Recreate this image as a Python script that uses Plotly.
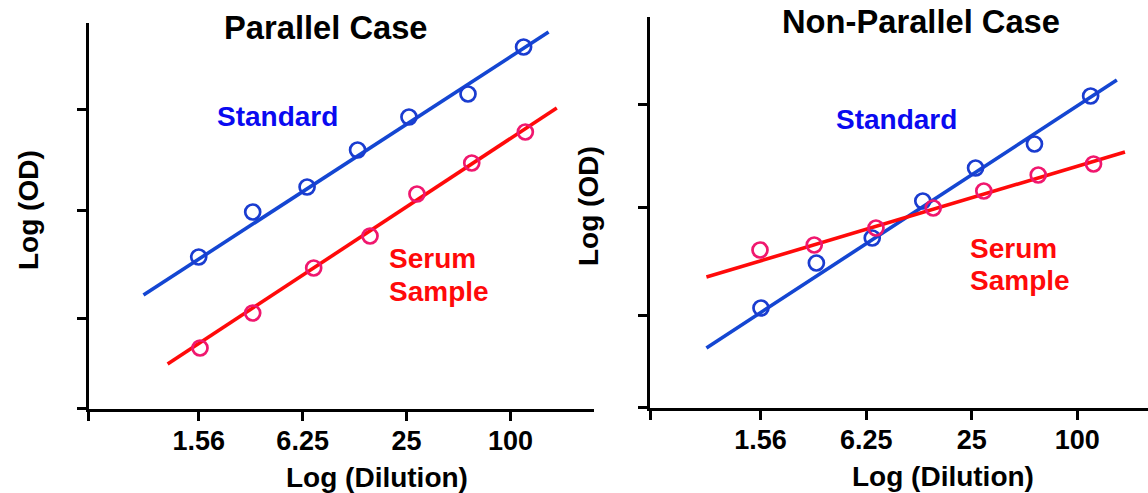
import plotly.graph_objects as go

# ---------------- data ----------------
# Parallel case
par_std_dil = [1.5625, 3.21, 6.63, 13.0, 25.8, 56.7, 119.0]
par_std_od = [1.52, 1.97, 2.22, 2.59, 2.92, 3.15, 3.62]
par_ser_dil = [1.59, 3.21, 7.24, 15.35, 28.7, 59.6, 121.8]
par_ser_od = [0.61, 0.96, 1.41, 1.73, 2.15, 2.46, 2.77]
par_std_fit_dil = [0.748, 166.1]
par_std_fit_od = [1.14, 3.77]
par_ser_fit_dil = [1.032, 185.3]
par_ser_fit_od = [0.45, 3.01]

# Non-parallel case
non_std_dil = [1.57, 3.25, 6.77, 13.15, 26.3, 57.0, 119.2]
non_std_od = [1.00, 1.45, 1.70, 2.07, 2.40, 2.64, 3.12]
non_ser_dil = [1.55, 3.16, 7.11, 15.08, 29.3, 59.9, 123.8]
non_ser_od = [1.58, 1.63, 1.80, 2.00, 2.17, 2.33, 2.44]
non_std_fit_dil = [0.767, 168.2]
non_std_fit_od = [0.60, 3.28]
non_ser_fit_dil = [0.767, 187.1]
non_ser_fit_od = [1.31, 2.56]

x_tick_vals = [1.5625, 6.25, 25, 100]
x_tick_text = ["1.56", "6.25", "25", "100"]
par_y_ticks = [0.91, 1.99, 3.00]
non_y_ticks = [0.93, 2.01, 3.04]

# ---------------- styling ----------------
W, H = 1148, 493
FONT = "Liberation Sans, Arial, sans-serif"
BLUE_LINE = "#1446d2"
BLUE_MARK = "#1a3cd0"
RED_LINE = "#ff0a0a"
RED_MARK = "#f0176e"
BLUE_TEXT = "#0a0af0"
RED_TEXT = "#ff0a0a"


def px_x(p):
    return p / W


def px_y(p):
    return 1 - p / H


fig = go.Figure()


def add_panel(xa, ya, std_dil, std_od, ser_dil, ser_od,
              sfit_x, sfit_y, rfit_x, rfit_y):
    fig.add_trace(go.Scatter(x=sfit_x, y=sfit_y, mode="lines",
                             line=dict(color=BLUE_LINE, width=3.6),
                             xaxis=xa, yaxis=ya, showlegend=False,
                             hoverinfo="skip"))
    fig.add_trace(go.Scatter(x=rfit_x, y=rfit_y, mode="lines",
                             line=dict(color=RED_LINE, width=3.6),
                             xaxis=xa, yaxis=ya, showlegend=False,
                             hoverinfo="skip"))
    fig.add_trace(go.Scatter(x=std_dil, y=std_od, mode="markers",
                             marker=dict(symbol="circle-open", size=15,
                                         color=BLUE_MARK,
                                         line=dict(width=2.7, color=BLUE_MARK)),
                             xaxis=xa, yaxis=ya, showlegend=False))
    fig.add_trace(go.Scatter(x=ser_dil, y=ser_od, mode="markers",
                             marker=dict(symbol="circle-open", size=15,
                                         color=RED_MARK,
                                         line=dict(width=2.7, color=RED_MARK)),
                             xaxis=xa, yaxis=ya, showlegend=False))


add_panel("x", "y", par_std_dil, par_std_od, par_ser_dil, par_ser_od,
          par_std_fit_dil, par_std_fit_od, par_ser_fit_dil, par_ser_fit_od)
add_panel("x2", "y2", non_std_dil, non_std_od, non_ser_dil, non_ser_od,
          non_std_fit_dil, non_std_fit_od, non_ser_fit_dil, non_ser_fit_od)

# axis ranges (log10 for x)
L_xr = [-0.4428, 2.4834]
R_xr = [-0.4348, 2.4035]
L_yr = [0, 3.86]
R_yr = [0, 3.91]

tick_font = dict(family=FONT, size=27, color="black", weight="bold")


def xaxis_cfg(dom, rng, anchor):
    origin = 10 ** (rng[0] + 0.0005)
    return dict(domain=dom, type="log", range=rng, anchor=anchor,
                showgrid=False, zeroline=False, showline=True,
                linecolor="black", linewidth=3.4,
                ticks="outside", ticklen=9, tickwidth=3.2, tickcolor="black",
                tickmode="array", tickvals=[origin] + x_tick_vals,
                ticktext=[""] + x_tick_text, tickfont=tick_font,
                ticklabelstandoff=-4, fixedrange=True)


def yaxis_cfg(dom, rng, anchor, ticks):
    return dict(domain=dom, range=rng, anchor=anchor,
                showgrid=False, zeroline=False, showline=True,
                linecolor="black", linewidth=3.4,
                ticks="outside", ticklen=9, tickwidth=3.2, tickcolor="black",
                tickmode="array", tickvals=[0.0005] + ticks,
                showticklabels=False, fixedrange=True)


fig.update_layout(
    width=W, height=H,
    margin=dict(l=0, r=0, t=0, b=0),
    paper_bgcolor="white", plot_bgcolor="white",
    xaxis=xaxis_cfg([px_x(88.8), px_x(594)], L_xr, "y"),
    yaxis=yaxis_cfg([px_y(409), px_y(23)], L_yr, "x", par_y_ticks),
    xaxis2=xaxis_cfg([px_x(650.4), 1.0], R_xr, "y2"),
    yaxis2=yaxis_cfg([px_y(408), px_y(17)], R_yr, "x2", non_y_ticks),
)


def label(text, x, y, size, color="black", xanchor="center", angle=0):
    fig.add_annotation(text=text, x=px_x(x), y=px_y(y), xref="paper",
                       yref="paper", showarrow=False, xanchor=xanchor,
                       yanchor="middle", textangle=angle,
                       font=dict(family=FONT, size=size, color=color,
                                 weight="bold"))


# titles
label("Parallel Case", 326, 28, 32.7)
label("Non-Parallel Case", 921, 21, 32.7)
# series labels
label("Standard", 277, 116, 28, BLUE_TEXT)
label("Serum", 387, 258, 28, RED_TEXT, xanchor="left")
label("Sample", 387, 291, 28, RED_TEXT, xanchor="left")
label("Standard", 896, 119, 28, BLUE_TEXT)
label("Serum", 968, 248, 28, RED_TEXT, xanchor="left")
label("Sample", 968, 280, 28, RED_TEXT, xanchor="left")
# axis titles
label("Log (Dilution)", 377, 477, 28)
label("Log (Dilution)", 943, 476, 28)
label("Log (OD)", 28, 210, 28, angle=-90)
label("Log (OD)", 588, 206, 28, angle=-90)

fig.write_html(
    "out.html",
    config={"displayModeBar": False},
    post_script="document.body.style.margin='0px';"
                "document.body.style.overflow='hidden';",
)
